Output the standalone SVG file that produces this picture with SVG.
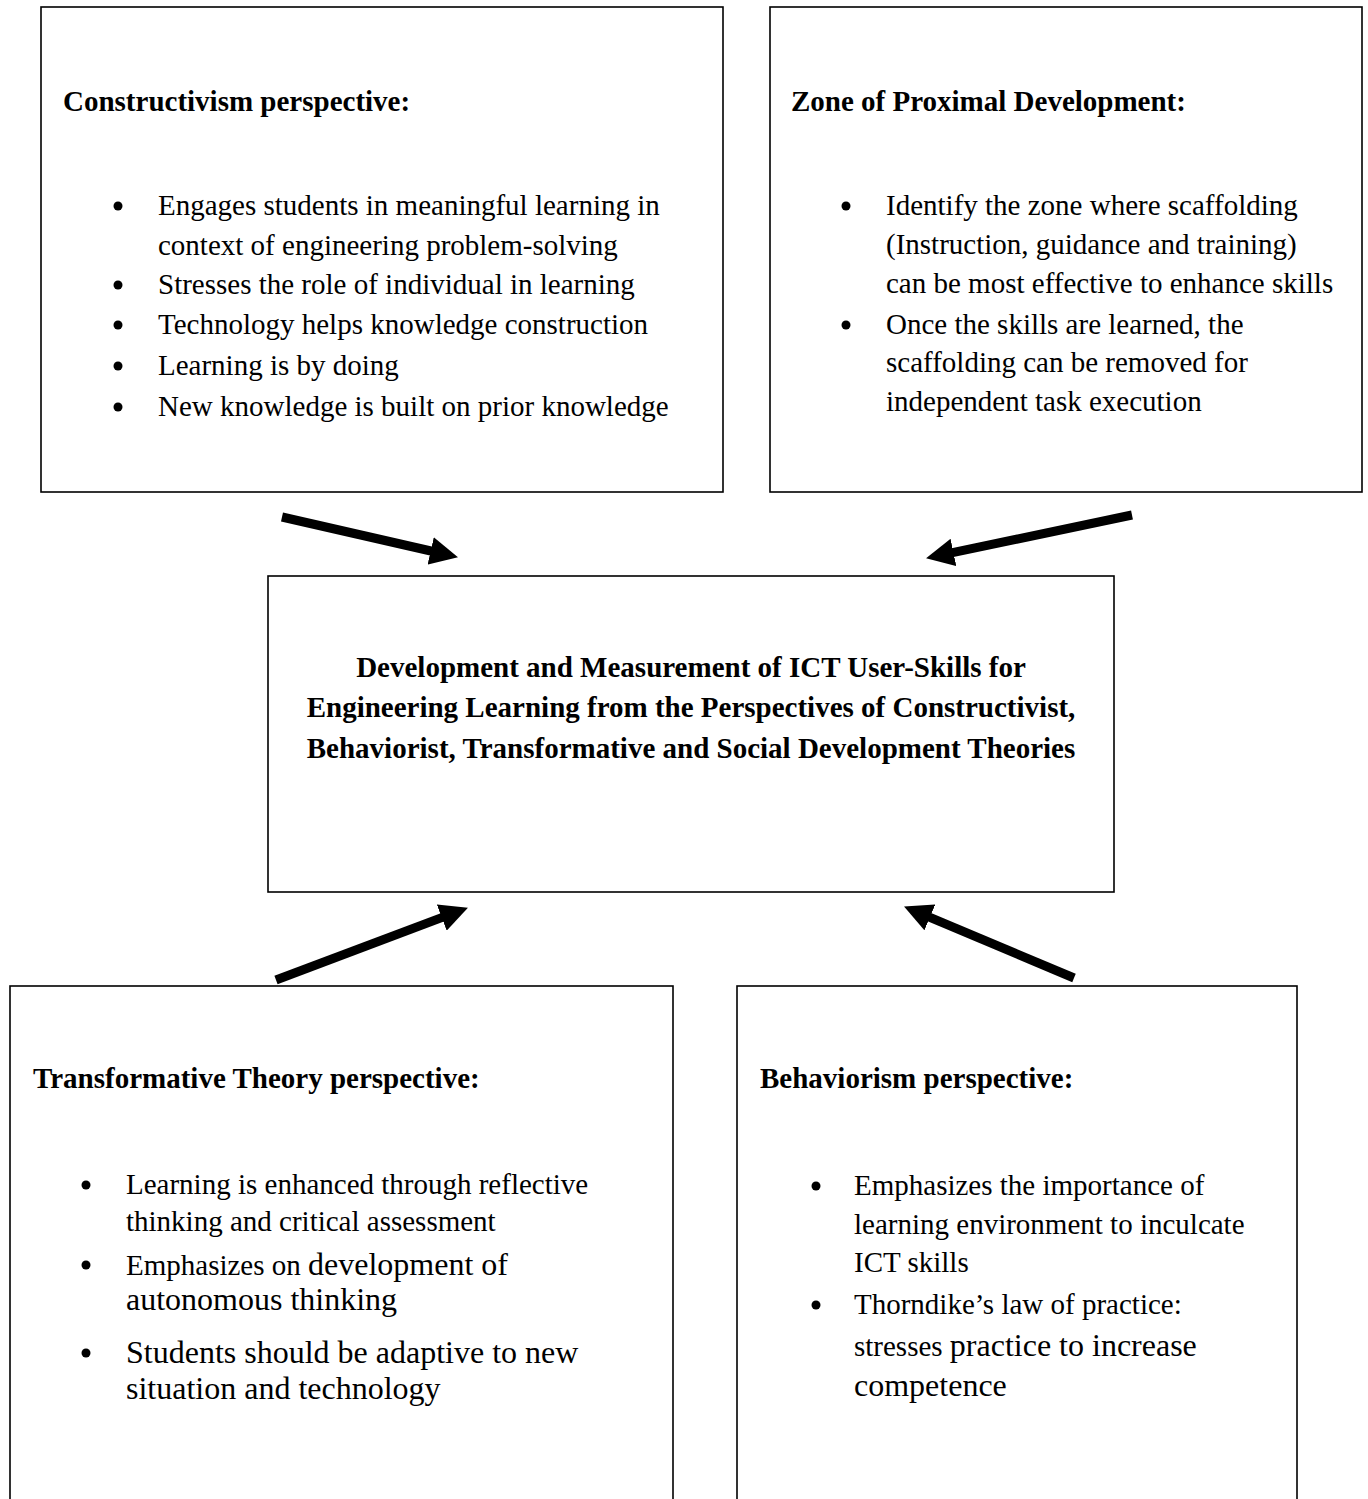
<svg xmlns="http://www.w3.org/2000/svg" width="1368" height="1499" viewBox="0 0 1368 1499">
<style>
.box{fill:#fff;stroke:#000;stroke-width:1.6}
text{font-family:"Liberation Serif","Times New Roman",serif;fill:#000}
.t{font-size:29px;font-weight:bold}
.b{font-size:29px}
.L{font-size:32px}
.c{font-size:29px;font-weight:bold;text-anchor:middle}
.dot{fill:#000}
.arr{stroke:#000;stroke-width:9;fill:none;marker-end:url(#head)}
</style>
<defs>
<marker id="head" viewBox="0 0 28 28" refX="7" refY="14" markerWidth="28" markerHeight="28" markerUnits="userSpaceOnUse" orient="auto">
<path d="M0,0 L28,14 L0,28 z" fill="#000"/>
</marker>
</defs>
<rect width="1368" height="1499" fill="#fff"/>
<g id="constructivism">
<rect class="box" x="41" y="7" width="682" height="485"/>
<text class="t" x="63" y="111">Constructivism perspective:</text>
<circle class="dot" cx="118" cy="206" r="4.5"/>
<text class="b" x="158" y="215">Engages students in meaningful learning in</text>
<text class="b" x="158" y="255">context of engineering problem-solving</text>
<circle class="dot" cx="118" cy="285" r="4.5"/>
<text class="b" x="158" y="294">Stresses the role of individual in learning</text>
<circle class="dot" cx="118" cy="325" r="4.5"/>
<text class="b" x="158" y="334">Technology helps knowledge construction</text>
<circle class="dot" cx="118" cy="366" r="4.5"/>
<text class="b" x="158" y="375">Learning is by doing</text>
<circle class="dot" cx="118" cy="407" r="4.5"/>
<text class="b" x="158" y="416">New knowledge is built on prior knowledge</text>
</g>
<g id="zpd">
<rect class="box" x="770" y="7" width="592" height="485"/>
<text class="t" x="791" y="111">Zone of Proximal Development:</text>
<circle class="dot" cx="846" cy="206" r="4.5"/>
<text class="b" x="886" y="215">Identify the zone where scaffolding</text>
<text class="b" x="886" y="254">(Instruction, guidance and training)</text>
<text class="b" x="886" y="293">can be most effective to enhance skills</text>
<circle class="dot" cx="846" cy="325" r="4.5"/>
<text class="b" x="886" y="334">Once the skills are learned, the</text>
<text class="b" x="886" y="372">scaffolding can be removed for</text>
<text class="b" x="886" y="411">independent task execution</text>
</g>
<g id="center">
<rect class="box" x="268" y="576" width="846" height="316"/>
<text class="c" x="691" y="677">Development and Measurement of ICT User-Skills for</text>
<text class="c" x="691" y="717">Engineering Learning from the Perspectives of Constructivist,</text>
<text class="c" x="691" y="758">Behaviorist, Transformative and Social Development Theories</text>
</g>
<g id="transformative">
<rect class="box" x="10" y="986" width="663" height="540"/>
<text class="t" x="33" y="1088">Transformative Theory perspective:</text>
<circle class="dot" cx="86" cy="1185" r="4.5"/>
<text class="b" x="126" y="1194">Learning is enhanced through reflective</text>
<text class="b" x="126" y="1231">thinking and critical assessment</text>
<circle class="dot" cx="86" cy="1265" r="4.5"/>
<text x="126" y="1275"><tspan class="b">Emphasizes on </tspan><tspan class="L">development of</tspan></text>
<text class="L" x="126" y="1310">autonomous thinking</text>
<circle class="dot" cx="86" cy="1353" r="4.5"/>
<text class="L" x="126" y="1363">Students should be adaptive to new</text>
<text class="L" x="126" y="1399">situation and technology</text>
</g>
<g id="behaviorism">
<rect class="box" x="737" y="986" width="560" height="540"/>
<text class="t" x="760" y="1088">Behaviorism perspective:</text>
<circle class="dot" cx="816" cy="1186" r="4.5"/>
<text class="b" x="854" y="1195">Emphasizes the importance of</text>
<text class="b" x="854" y="1234">learning environment to inculcate</text>
<text class="b" x="854" y="1272">ICT skills</text>
<circle class="dot" cx="816" cy="1305" r="4.5"/>
<text class="b" x="854" y="1314">Thorndike’s law of practice:</text>
<text x="854" y="1356"><tspan class="b">stresses </tspan><tspan class="L">practice to increase</tspan></text>
<text class="L" x="854" y="1396">competence</text>
</g>
<g id="connectors">
<line class="arr" x1="282" y1="517" x2="437.5" y2="552.5"/>
<line class="arr" x1="1132" y1="515" x2="946.6" y2="553.9"/>
<line class="arr" x1="276" y1="980" x2="448.3" y2="915.1"/>
<line class="arr" x1="1074" y1="978" x2="923.4" y2="914.7"/>
</g>
</svg>
